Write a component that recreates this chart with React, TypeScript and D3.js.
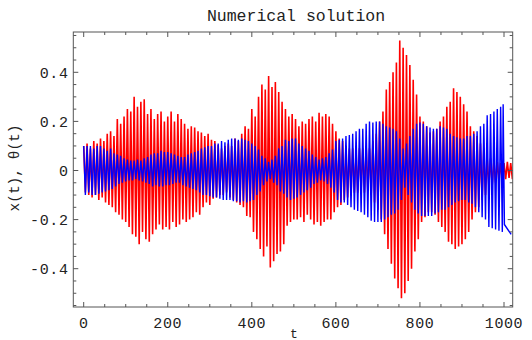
import React, { useEffect, useRef } from 'react'
import * as d3 from 'd3'

// time between successive peaks (t units)
const T_STEP = 4

// theta(t): peak values, one every T_STEP, starting at t = 0
const redPeaks = [
  0.10, -0.09, 0.11, -0.10, 0.09, -0.11, 0.12, -0.10, 0.11, -0.12,
  0.13, -0.11, 0.12, -0.13, 0.15, -0.14, 0.16, -0.15, 0.14, -0.17,
  0.21, -0.18, 0.19, -0.20, 0.22, -0.21, 0.25, -0.23, 0.24, -0.26,
  0.30, -0.27, 0.26, -0.30, 0.28, -0.25, 0.29, -0.28, 0.23, -0.29,
  0.25, -0.26, 0.21, -0.24, 0.23, -0.22, 0.24, -0.24, 0.20, -0.23,
  0.22, -0.24, 0.24, -0.21, 0.20, -0.23, 0.23, -0.22, 0.21, -0.20,
  0.19, -0.21, 0.17, -0.20, 0.18, -0.19, 0.175, -0.17, 0.16, -0.18,
  0.155, -0.15, 0.14, -0.13, 0.15, -0.14, 0.125, -0.115, 0.12, -0.11,
  0.105, -0.10, 0.09, -0.10, 0.10, -0.09, 0.11, -0.11, 0.10, -0.12,
  0.13, -0.13, 0.12, -0.14, 0.15, -0.15, 0.18, -0.185, 0.17, -0.19,
  0.25, -0.25, 0.22, -0.28, 0.30, -0.32, 0.35, -0.35, 0.33, -0.31,
  0.385, -0.395, 0.34, -0.37, 0.36, -0.34, 0.32, -0.33, 0.28, -0.30,
  0.25, -0.225, 0.22, -0.21, 0.23, -0.20, 0.21, -0.20, 0.18, -0.19,
  0.20, -0.21, 0.19, -0.18, 0.21, -0.20, 0.22, -0.22, 0.20, -0.21,
  0.235, -0.225, 0.22, -0.21, 0.23, -0.20, 0.22, -0.20, 0.19, -0.17,
  0.16, -0.15, 0.13, -0.14, 0.12, -0.12, 0.10, -0.11, 0.09, -0.10,
  0.09, -0.09, 0.08, -0.09, 0.09, -0.08, 0.09, -0.09, 0.10, -0.08,
  0.09, -0.10, 0.12, -0.13, 0.15, -0.16, 0.20, -0.20, 0.24, -0.26,
  0.33, -0.32, 0.36, -0.38, 0.40, -0.44, 0.44, -0.48, 0.53, -0.52,
  0.50, -0.50, 0.47, -0.45, 0.43, -0.40, 0.37, -0.33, 0.31, -0.28,
  0.22, -0.21, 0.20, -0.19, 0.18, -0.17, 0.155, -0.17, 0.16, -0.18,
  0.17, -0.21, 0.20, -0.23, 0.22, -0.25, 0.26, -0.29, 0.28, -0.30,
  0.335, -0.32, 0.32, -0.31, 0.30, -0.30, 0.27, -0.28, 0.24, -0.25,
  0.18, -0.20, 0.16, -0.17, 0.14, -0.15, 0.11, -0.12, 0.09, -0.10,
  0.05, -0.065, 0.05, -0.06, 0.04, -0.05, 0.035, -0.045, 0.03, -0.04,
  0.03, -0.035, 0.035, -0.03, 0.03, -0.035,
]

// x(t): peak values, one every T_STEP, starting at t = 0
const bluePeaks = [
  0.10, -0.10, 0.10, -0.09, 0.10, -0.10, 0.09, -0.10, 0.10, -0.095,
  0.10, -0.09, 0.09, -0.085, 0.08, -0.08, 0.09, -0.075, 0.07, -0.065,
  0.065, -0.055, 0.06, -0.05, 0.05, -0.045, 0.045, -0.04, 0.04, -0.04,
  0.04, -0.035, 0.045, -0.04, 0.04, -0.045, 0.05, -0.05, 0.055, -0.055,
  0.065, -0.065, 0.07, -0.06, 0.07, -0.065, 0.08, -0.065, 0.075, -0.06,
  0.075, -0.06, 0.07, -0.055, 0.065, -0.05, 0.06, -0.05, 0.055, -0.06,
  0.055, -0.065, 0.065, -0.07, 0.07, -0.075, 0.075, -0.08, 0.08, -0.09,
  0.09, -0.10, 0.095, -0.10, 0.10, -0.105, 0.10, -0.11, 0.11, -0.11,
  0.11, -0.115, 0.12, -0.12, 0.115, -0.12, 0.125, -0.12, 0.13, -0.125,
  0.13, -0.125, 0.125, -0.13, 0.13, -0.125, 0.125, -0.13, 0.12, -0.125,
  0.11, -0.12, 0.10, -0.10, 0.085, -0.085, 0.06, -0.06, 0.05, -0.045,
  0.035, -0.035, 0.045, -0.05, 0.06, -0.06, 0.09, -0.085, 0.10, -0.095,
  0.125, -0.11, 0.12, -0.12, 0.13, -0.115, 0.13, -0.11, 0.11, -0.10,
  0.10, -0.09, 0.09, -0.08, 0.08, -0.07, 0.065, -0.055, 0.055, -0.05,
  0.045, -0.04, 0.05, -0.045, 0.055, -0.055, 0.07, -0.07, 0.085, -0.09,
  0.12, -0.12, 0.125, -0.13, 0.13, -0.13, 0.14, -0.14, 0.145, -0.15,
  0.15, -0.16, 0.16, -0.165, 0.17, -0.17, 0.17, -0.18, 0.19, -0.19,
  0.20, -0.205, 0.195, -0.21, 0.20, -0.21, 0.20, -0.21, 0.19, -0.20,
  0.18, -0.19, 0.175, -0.18, 0.17, -0.175, 0.16, -0.16, 0.13, -0.12,
  0.09, -0.07, 0.11, -0.10, 0.14, -0.13, 0.17, -0.16, 0.19, -0.175,
  0.195, -0.185, 0.19, -0.185, 0.18, -0.185, 0.175, -0.185, 0.17, -0.175,
  0.17, -0.17, 0.18, -0.16, 0.175, -0.16, 0.17, -0.15, 0.15, -0.14,
  0.14, -0.13, 0.135, -0.125, 0.13, -0.12, 0.13, -0.12, 0.14, -0.13,
  0.14, -0.135, 0.15, -0.15, 0.16, -0.17, 0.18, -0.19, 0.19, -0.20,
  0.225, -0.23, 0.23, -0.235, 0.24, -0.24, 0.25, -0.245, 0.26, -0.25,
]
// last, unevenly spaced samples of x(t)
const blueTailT = [998, 1001, 1017]
const blueTailV = [0.27, -0.22, -0.26]

const xTicks = [0, 200, 400, 600, 800, 1000]
const xTickLabels = ['0', '200', '400', '600', '800', '1000']
const yTicks = [-0.4, -0.2, 0, 0.2, 0.4]
const yTickLabels = ['-0.4', '-0.2', '0', '0.2', '0.4']
const title = 'Numerical solution'
const xLabel = 't'
const yLabel = 'x(t), θ(t)'

const W = 532
const H = 340
const frame = { left: 73.3, right: 512.7, top: 32, bottom: 307 }
const FONT = "'Liberation Mono', 'DejaVu Sans Mono', monospace"

const App = () => {
  const svgRef = useRef(null)

  useEffect(() => {
    const svg = d3.select(svgRef.current)
    svg.selectAll('*').remove()

    const x = d3.scaleLinear().domain([0, 1000]).range([83.7, 504])
    const y = d3.scaleLinear().domain([0, 0.4]).range([170.5, 72.3])

    svg
      .append('defs')
      .append('clipPath')
      .attr('id', 'plot-clip')
      .append('rect')
      .attr('x', frame.left)
      .attr('y', frame.top)
      .attr('width', frame.right - frame.left)
      .attr('height', frame.bottom - frame.top)

    const line = d3
      .line()
      .x((d) => x(d[0]))
      .y((d) => y(d[1]))

    const redPts = redPeaks.map((v, i) => [i * T_STEP, v])
    const bluePts = bluePeaks
      .map((v, i) => [i * T_STEP, v])
      .concat(blueTailT.map((t, i) => [t, blueTailV[i]]))

    const plot = svg.append('g').attr('clip-path', 'url(#plot-clip)')
    plot
      .append('path')
      .attr('d', line(redPts))
      .attr('fill', 'none')
      .attr('stroke', '#ff0000')
      .attr('stroke-width', 1.6)
      .attr('stroke-linejoin', 'bevel')
    plot
      .append('path')
      .attr('d', line(bluePts))
      .attr('fill', 'none')
      .attr('stroke', '#0000ff')
      .attr('stroke-width', 1.4)
      .attr('stroke-linejoin', 'bevel')

    // frame
    svg
      .append('rect')
      .attr('x', frame.left)
      .attr('y', frame.top)
      .attr('width', frame.right - frame.left)
      .attr('height', frame.bottom - frame.top)
      .attr('fill', 'none')
      .attr('stroke', '#555')
      .attr('stroke-width', 1)

    const ticks = svg.append('g').attr('stroke', '#555').attr('stroke-width', 1)

    // x ticks, bottom and top, pointing inward
    d3.range(0, 1001, 50).forEach((t) => {
      const len = t % 200 === 0 ? 5 : 3
      const px = x(t)
      ticks.append('line').attr('x1', px).attr('x2', px)
        .attr('y1', frame.bottom).attr('y2', frame.bottom - len)
      ticks.append('line').attr('x1', px).attr('x2', px)
        .attr('y1', frame.top).attr('y2', frame.top + len)
    })

    // y ticks, left and right
    d3.range(-11, 12).forEach((k) => {
      const v = k * 0.05
      const py = y(v)
      if (py < frame.top || py > frame.bottom) return
      const len = k % 4 === 0 ? 5 : 3
      ticks.append('line').attr('x1', frame.left).attr('x2', frame.left + len)
        .attr('y1', py).attr('y2', py)
      ticks.append('line').attr('x1', frame.right).attr('x2', frame.right - len)
        .attr('y1', py).attr('y2', py)
    })

    const labels = svg
      .append('g')
      .attr('font-family', FONT)
      .attr('fill', '#222')

    xTicks.forEach((t, i) => {
      labels
        .append('text')
        .attr('x', x(t))
        .attr('y', 328)
        .attr('text-anchor', 'middle')
        .attr('font-size', 15)
        .attr('letter-spacing', 0.6)
        .text(xTickLabels[i])
    })

    yTicks.forEach((v, i) => {
      labels
        .append('text')
        .attr('x', 68.5)
        .attr('y', y(v))
        .attr('dy', '0.35em')
        .attr('text-anchor', 'end')
        .attr('font-size', 15)
        .attr('letter-spacing', 0.6)
        .text(yTickLabels[i])
    })

    labels
      .append('text')
      .attr('x', 296)
      .attr('y', 20.5)
      .attr('text-anchor', 'middle')
      .attr('font-size', 16.5)
      .text(title)

    labels
      .append('text')
      .attr('x', 294)
      .attr('y', 337.5)
      .attr('text-anchor', 'middle')
      .attr('font-size', 13)
      .text(xLabel)

    labels
      .append('text')
      .attr('transform', 'translate(19,168) rotate(-90)')
      .attr('text-anchor', 'middle')
      .attr('font-size', 14.5)
      .text(yLabel)
  }, [])

  return (
    <svg
      ref={svgRef}
      width={W}
      height={H}
      style={{ position: 'absolute', left: 0, top: 0, background: '#fff' }}
    />
  )
}

export default App
